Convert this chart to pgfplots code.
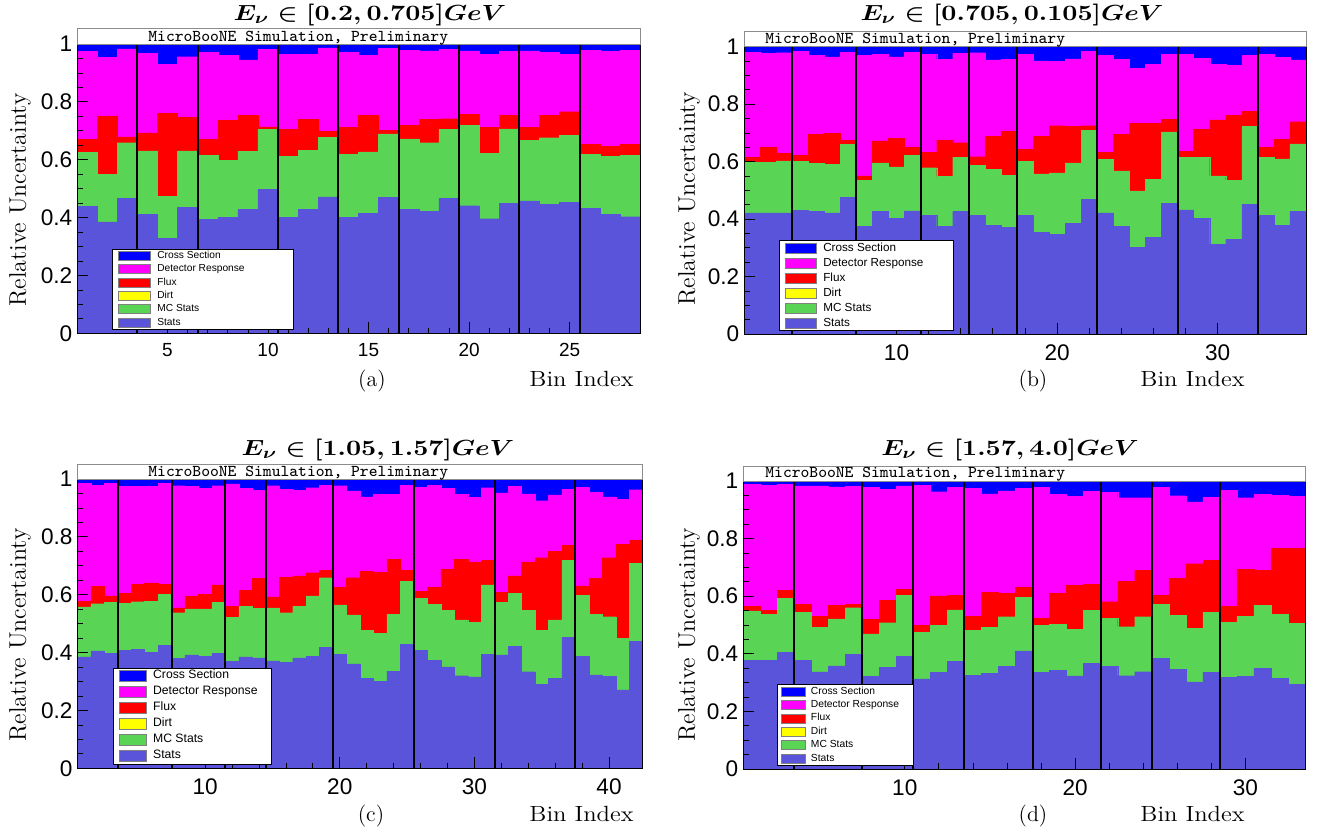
\documentclass[border=0pt]{standalone}
\usepackage{fontspec}
\usepackage{amsmath}
\usepackage{graphicx}
\usepackage{pgfplots}
\usepackage{pgfplotstable}
\pgfplotsset{compat=1.18}
\newfontfamily\rootsans{Liberation Sans}

% ROOT palette
\definecolor{cStat}{RGB}{89,84,217}
\definecolor{cMC}{RGB}{89,212,84}
\definecolor{cFlux}{RGB}{255,0,0}
\definecolor{cDirt}{RGB}{255,255,0}
\definecolor{cDet}{RGB}{255,0,255}
\definecolor{cXsec}{RGB}{0,0,255}

% cumulative tops of each layer per bin (stat < mc < flux < det < tot)
\pgfplotstableread{
bin stat mc flux det tot
1 0.439 0.626 0.671 0.975 1
2 0.385 0.549 0.751 0.954 1
3 0.466 0.659 0.679 0.983 1
4 0.412 0.631 0.693 0.968 1
5 0.328 0.474 0.761 0.930 1
6 0.435 0.631 0.746 0.956 1
7 0.394 0.616 0.671 0.972 1
8 0.400 0.599 0.737 0.962 1
9 0.428 0.630 0.753 0.945 1
10 0.497 0.705 0.714 0.982 1
11 0.400 0.612 0.705 0.965 1
12 0.429 0.633 0.739 0.965 1
13 0.472 0.677 0.699 0.987 1
14 0.400 0.618 0.712 0.971 1
15 0.414 0.627 0.753 0.962 1
16 0.469 0.689 0.702 0.985 1
17 0.429 0.672 0.720 0.979 1
18 0.422 0.659 0.739 0.976 1
19 0.466 0.705 0.742 0.982 1
20 0.441 0.719 0.757 0.976 1
21 0.396 0.622 0.712 0.964 1
22 0.449 0.707 0.754 0.975 1
23 0.458 0.668 0.711 0.976 1
24 0.446 0.676 0.754 0.972 1
25 0.453 0.685 0.766 0.965 1
26 0.431 0.618 0.653 0.978 1
27 0.412 0.612 0.647 0.975 1
28 0.403 0.615 0.654 0.979 1
}\dataA

\pgfplotstableread{
bin stat mc flux det tot
1 0.422 0.597 0.616 0.981 1
2 0.422 0.597 0.650 0.977 1
3 0.422 0.603 0.629 0.979 1
4 0.430 0.602 0.622 0.983 1
5 0.426 0.594 0.696 0.971 1
6 0.422 0.590 0.698 0.965 1
7 0.476 0.660 0.675 0.981 1
8 0.374 0.534 0.550 0.970 1
9 0.428 0.596 0.672 0.973 1
10 0.403 0.582 0.680 0.965 1
11 0.429 0.623 0.650 0.981 1
12 0.414 0.579 0.632 0.974 1
13 0.374 0.548 0.675 0.956 1
14 0.426 0.615 0.666 0.977 1
15 0.414 0.588 0.617 0.979 1
16 0.379 0.573 0.689 0.954 1
17 0.371 0.552 0.706 0.956 1
18 0.412 0.602 0.643 0.974 1
19 0.353 0.557 0.687 0.951 1
20 0.348 0.561 0.725 0.950 1
21 0.385 0.596 0.722 0.958 1
22 0.469 0.710 0.725 0.984 1
23 0.422 0.609 0.632 0.969 1
24 0.374 0.568 0.695 0.956 1
25 0.302 0.498 0.733 0.925 1
26 0.336 0.538 0.733 0.939 1
27 0.455 0.704 0.747 0.973 1
28 0.432 0.615 0.637 0.973 1
29 0.403 0.615 0.712 0.960 1
30 0.313 0.550 0.745 0.939 1
31 0.329 0.536 0.761 0.935 1
32 0.452 0.722 0.774 0.970 1
33 0.413 0.615 0.650 0.973 1
34 0.379 0.610 0.677 0.963 1
35 0.428 0.662 0.739 0.954 1
}\dataB

\pgfplotstableread{
bin stat mc flux det tot
1 0.385 0.558 0.577 0.985 1
2 0.406 0.569 0.629 0.979 1
3 0.397 0.573 0.596 0.986 1
4 0.408 0.570 0.605 0.975 1
5 0.412 0.576 0.637 0.975 1
6 0.401 0.578 0.641 0.975 1
7 0.425 0.601 0.636 0.985 1
8 0.380 0.538 0.555 0.977 1
9 0.392 0.551 0.594 0.975 1
10 0.388 0.551 0.601 0.968 1
11 0.397 0.574 0.634 0.977 1
12 0.369 0.523 0.560 0.983 1
13 0.385 0.559 0.615 0.968 1
14 0.382 0.553 0.656 0.960 1
15 0.371 0.555 0.593 0.977 1
16 0.366 0.538 0.660 0.965 1
17 0.382 0.559 0.665 0.962 1
18 0.387 0.596 0.676 0.970 1
19 0.418 0.659 0.684 0.979 1
20 0.394 0.565 0.626 0.977 1
21 0.361 0.530 0.659 0.959 1
22 0.311 0.478 0.680 0.938 1
23 0.300 0.467 0.677 0.947 1
24 0.336 0.532 0.722 0.947 1
25 0.429 0.647 0.685 0.979 1
26 0.407 0.588 0.611 0.972 1
27 0.374 0.567 0.626 0.979 1
28 0.351 0.547 0.688 0.968 1
29 0.320 0.513 0.722 0.947 1
30 0.316 0.505 0.714 0.937 1
31 0.395 0.634 0.718 0.970 1
32 0.392 0.573 0.608 0.952 1
33 0.421 0.605 0.665 0.975 1
34 0.334 0.545 0.714 0.949 1
35 0.291 0.478 0.728 0.925 1
36 0.311 0.513 0.749 0.945 1
37 0.452 0.720 0.770 0.965 1
38 0.386 0.597 0.631 0.971 1
39 0.323 0.532 0.657 0.954 1
40 0.317 0.524 0.728 0.938 1
41 0.271 0.449 0.774 0.930 1
42 0.440 0.709 0.789 0.963 1
}\dataC

\pgfplotstableread{
bin stat mc flux det tot
1 0.378 0.549 0.566 0.988 1
2 0.378 0.537 0.552 0.986 1
3 0.405 0.593 0.620 0.988 1
4 0.378 0.543 0.572 0.983 1
5 0.337 0.491 0.531 0.983 1
6 0.358 0.521 0.568 0.980 1
7 0.398 0.560 0.572 0.981 1
8 0.321 0.469 0.520 0.977 1
9 0.352 0.508 0.586 0.972 1
10 0.392 0.604 0.624 0.983 1
11 0.313 0.475 0.499 0.984 1
12 0.336 0.500 0.601 0.963 1
13 0.375 0.553 0.604 0.977 1
14 0.326 0.481 0.531 0.975 1
15 0.332 0.492 0.613 0.955 1
16 0.356 0.529 0.610 0.966 1
17 0.410 0.596 0.631 0.975 1
18 0.336 0.498 0.525 0.977 1
19 0.343 0.502 0.610 0.954 1
20 0.323 0.486 0.637 0.947 1
21 0.367 0.550 0.641 0.965 1
22 0.356 0.523 0.581 0.961 1
23 0.324 0.494 0.652 0.942 1
24 0.338 0.529 0.690 0.942 1
25 0.384 0.572 0.604 0.977 1
26 0.347 0.534 0.662 0.949 1
27 0.303 0.488 0.713 0.928 1
28 0.336 0.543 0.725 0.944 1
29 0.319 0.509 0.564 0.968 1
30 0.322 0.531 0.693 0.942 1
31 0.350 0.568 0.690 0.954 1
32 0.315 0.537 0.766 0.951 1
33 0.294 0.506 0.766 0.946 1
}\dataD

\pgfplotsset{
  boxleg/.style={legend image code/.code={%
    \draw[##1,draw=black!50,line width=0.25pt] (0pt,-\lgh) rectangle (\lgw,\lgh);}},
  lay/.style={ybar, bar width=1, bar shift=0pt, fill=#1, draw=#1, line width=0.15pt, boxleg},
  unc/.style={
    scale only axis, anchor=south west,
    ymin=0, ymax=1, enlargelimits=false, axis on top,
    ytick={0,0.2,0.4,0.6,0.8,1}, minor y tick num=3, minor x tick num=4,
    tick pos=left, tick align=inside,
    major tick length=5.5pt, minor tick length=2.8pt,
    every tick/.style={black, line width=0.4pt},
    axis line style={line width=0.5pt},
    ticklabel style={font=\rootsans\fontsize{11.3}{13}\selectfont},
    /pgf/number format/assume math mode=true,
    yticklabel style={inner sep=0pt, xshift=-2.2pt},
    xticklabel style={inner sep=0pt, yshift=-5pt},
    extra x tick labels={},
    extra x tick style={grid=major, major grid style={black, line width=1pt}, major tick length=0pt},
    legend cell align=left,
  },
}

\newcommand\stack[2]{%
  \addplot[lay=cXsec] table[x=bin,y=tot]{#1}; \addlegendentry{Cross Section}
  \addplot[lay=cDet] table[x=bin,y=det]{#1}; \addlegendentry{Detector Response\hspace*{#2}}
  \addplot[lay=cFlux] table[x=bin,y=flux]{#1}; \addlegendentry{Flux}
  \addlegendimage{lay=cDirt} \addlegendentry{Dirt}
  \addplot[lay=cMC] table[x=bin,y=mc]{#1}; \addlegendentry{MC Stats}
  \addplot[lay=cStat] table[x=bin,y=stat]{#1}; \addlegendentry{Stats}
}

\newcommand\ttl[1]{\scalebox{1.2}[1]{\fontsize{11}{13}\selectfont$\boldsymbol{#1}$}}
\newcommand\binidx{\scalebox{1.12}[1]{\fontsize{11}{13}\selectfont Bin Index}}
\newcommand\mbbox{\ttfamily\fontsize{8.3}{9}\selectfont MicroBooNE Simulation, Preliminary}

\begin{document}
\begin{tikzpicture}
\path[use as bounding box] (0,0) rectangle (659.5pt,-416pt);

% (a)
\def\lgw{16pt}\def\lgh{2.25pt}
\begin{axis}[unc, at={(38.5pt,-166.65pt)}, width=281.5pt, height=144.65pt,
  xmin=0.5, xmax=28.5, xtick={5,10,15,20,25},
  xticklabel style={font=\rootsans\fontsize{9.5}{11}\selectfont},
  extra x ticks={3.5,6.5,10.5,13.5,16.5,19.5,22.5,25.5},
  legend style={at={(0.062,0.013)}, anchor=south west,
    font=\rootsans\fontsize{5.1}{6}\selectfont, inner xsep=3pt, inner ysep=0.78pt,
    row sep=1.57pt, column sep=3.3pt, line width=0.35pt,
    nodes={inner sep=0pt, text height=3.82pt, text depth=1.28pt}}]
\stack{\dataA}{21.5pt}
\end{axis}

% (b)
\def\lgw{15.5pt}\def\lgh{2.5pt}
\begin{axis}[unc, at={(372pt,-167pt)}, width=281pt, height=143.65pt,
  xmin=0.5, xmax=35.5, xtick={10,20,30},
  extra x ticks={3.5,7.5,11.5,14.5,17.5,22.5,27.5,32.5},
  legend style={at={(0.063,0.010)}, anchor=south west,
    font=\rootsans\fontsize{5.85}{7}\selectfont, inner xsep=2.85pt, inner ysep=0.83pt,
    row sep=1.65pt, column sep=3.15pt, line width=0.35pt,
    nodes={inner sep=0pt, text height=4.39pt, text depth=1.46pt}}]
\stack{\dataB}{11.9pt}
\end{axis}

% (c)
\def\lgw{13.8pt}\def\lgh{2.65pt}
\begin{axis}[unc, at={(38.65pt,-384.15pt)}, width=282.7pt, height=144.65pt,
  xmin=0.5, xmax=42.5, xtick={10,20,30,40},
  extra x ticks={3.5,7.5,11.5,14.5,19.5,25.5,31.5,37.5},
  legend style={at={(0.0626,0.014)}, anchor=south west,
    font=\rootsans\fontsize{6.1}{7.3}\selectfont, inner xsep=2.85pt, inner ysep=0.95pt,
    row sep=1.9pt, column sep=3.15pt, line width=0.35pt,
    nodes={inner sep=0pt, text height=4.58pt, text depth=1.52pt}}]
\stack{\dataC}{3.85pt}
\end{axis}

% (d)
\def\lgw{12pt}\def\lgh{2.25pt}
\begin{axis}[unc, at={(371.5pt,-384.5pt)}, width=281pt, height=144pt,
  xmin=0.5, xmax=33.5, xtick={10,20,30},
  extra x ticks={3.5,7.5,10.5,13.5,17.5,21.5,24.5,28.5},
  legend style={at={(0.060,0.0115)}, anchor=south west,
    font=\rootsans\fontsize{5.15}{6.2}\selectfont, inner xsep=2.2pt, inner ysep=0.83pt,
    row sep=1.55pt, column sep=2.5pt, line width=0.35pt,
    nodes={inner sep=0pt, text height=3.86pt, text depth=1.29pt}}]
\stack{\dataD}{4.8pt}
\end{axis}

% texts around the pads, placed in reference pixel units
\begin{scope}[x=0.5pt, y=-0.5pt]
\draw[black!45, fill=white, line width=0.4pt] (77,28) rectangle (640,44);
\draw[black!45, fill=white, line width=0.4pt] (744,31) rectangle (1306,46.7);
\draw[black!45, fill=white, line width=0.4pt] (77.3,464) rectangle (642.7,479);
\draw[black!45, fill=white, line width=0.4pt] (743,466) rectangle (1305,481);
\node[anchor=base west, inner sep=0pt] at (148,41.5) {\mbbox};
\node[anchor=base west, inner sep=0pt] at (765,43.5) {\mbbox};
\node[anchor=base west, inner sep=0pt] at (148,476) {\mbbox};
\node[anchor=base west, inner sep=0pt] at (765,477) {\mbbox};
\node[anchor=base, inner sep=0pt] at (370,20) {\ttl{E_{\nu}\in[0.2, 0.705]GeV}};
\node[anchor=base, inner sep=0pt] at (1012,20) {\ttl{E_{\nu}\in[0.705, 0.105]GeV}};
\node[anchor=base, inner sep=0pt] at (378,455) {\ttl{E_{\nu}\in[1.05, 1.57]GeV}};
\node[anchor=base, inner sep=0pt] at (1010,455) {\ttl{E_{\nu}\in[1.57, 4.0]GeV}};
\node[rotate=90, inner sep=0pt, font=\fontsize{12}{14}\selectfont] at (20,200) {Relative Uncertainty};
\node[rotate=90, inner sep=0pt, font=\fontsize{12}{14}\selectfont] at (689,199) {Relative Uncertainty};
\node[rotate=90, inner sep=0pt, font=\fontsize{12}{14}\selectfont] at (20,635) {Relative Uncertainty};
\node[rotate=90, inner sep=0pt, font=\fontsize{12}{14}\selectfont] at (689,635) {Relative Uncertainty};
\node[anchor=base east, inner sep=0pt] at (634,386) {\binidx};
\node[anchor=base east, inner sep=0pt] at (1245,386) {\binidx};
\node[anchor=base east, inner sep=0pt] at (634,821) {\binidx};
\node[anchor=base east, inner sep=0pt] at (1245,821) {\binidx};
\node[anchor=base, inner sep=0pt, font=\fontsize{11}{13}\selectfont] at (372,386) {(a)};
\node[anchor=base, inner sep=0pt, font=\fontsize{11}{13}\selectfont] at (1033,386) {(b)};
\node[anchor=base, inner sep=0pt, font=\fontsize{11}{13}\selectfont] at (371,821) {(c)};
\node[anchor=base, inner sep=0pt, font=\fontsize{11}{13}\selectfont] at (1033,821) {(d)};
\end{scope}
\end{tikzpicture}
\end{document}
